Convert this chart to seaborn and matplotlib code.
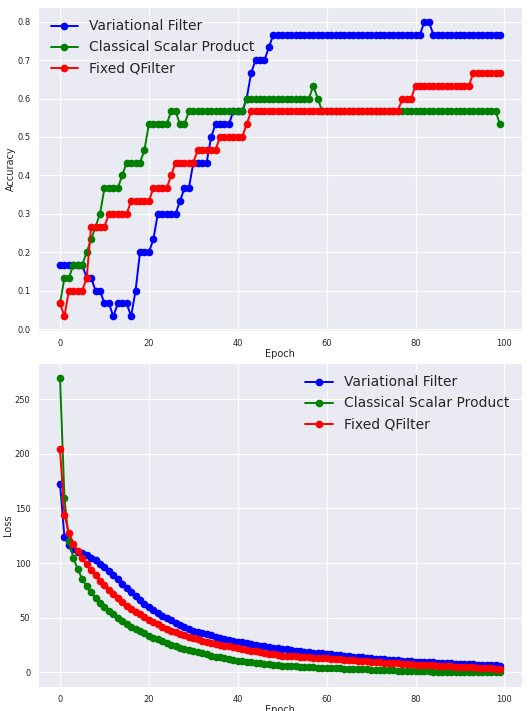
import numpy as np
import pandas as pd
import seaborn as sns
import matplotlib
matplotlib.use("Agg")
import matplotlib.pyplot as plt

sns.set_style("darkgrid")

epochs = list(range(100))
labels = ["Variational Filter", "Classical Scalar Product", "Fixed QFilter"]
colors = ["blue", "green", "red"]

# accuracy = correct / 30
acc_var_k = ([5] * 6 + [4] * 2 + [3] * 2 + [2] * 2 + [1] + [2] * 3 + [1] + [3] + [6] * 3 + [7]
             + [9] * 5 + [10] + [11] * 2 + [13] * 4 + [15] + [16] * 4 + [17] * 3 + [18] + [20]
             + [21] * 3 + [22] + [23] * 34 + [24] * 2 + [23] * 16)
acc_cls_k = ([2] + [4] * 2 + [5] * 3 + [6] + [7] + [8] + [9] + [11] * 4 + [12] + [13] * 4 + [14]
             + [16] * 5 + [17] * 2 + [16] * 2 + [17] * 13 + [18] * 15 + [19] + [18] + [17] * 40 + [16])
acc_fix_k = ([2] + [1] + [3] * 4 + [4] + [8] * 4 + [9] * 5 + [10] * 5 + [11] * 4 + [12] + [13] * 5
             + [14] * 5 + [15] * 6 + [16] + [17] * 34 + [18] * 3 + [19] * 13 + [20] * 7)

loss_var = [172.7, 123.8, 116.1, 112.5, 110.5, 109.0, 107.0, 104.5, 102.4, 99.3,
            96.3, 92.6, 88.6, 85.0, 81.0, 77.0, 73.3, 69.7, 66.6, 62.7,
            59.6, 56.8, 54.0, 51.7, 49.5, 47.4, 45.4, 43.5, 41.7, 39.9,
            38.2, 37.0, 35.8, 34.7, 33.7, 32.7, 31.7, 30.7, 29.8, 28.9,
            28.0, 27.3, 26.6, 25.9, 25.2, 24.5, 23.9, 23.2, 22.6, 22.0,
            21.4, 20.9, 20.4, 19.9, 19.4, 18.9, 18.5, 18.0, 17.6, 17.2,
            16.8, 16.4, 16.0, 15.6, 15.2, 14.8, 14.4, 14.0, 13.7, 13.3,
            13.0, 12.6, 12.3, 12.0, 11.6, 11.3, 11.0, 10.7, 10.4, 10.1,
            9.8, 9.6, 9.4, 9.2, 9.0, 8.8, 8.6, 8.4, 8.2, 8.0,
            7.8, 7.6, 7.4, 7.2, 7.0, 6.8, 6.6, 6.5, 6.3, 6.1]
loss_cls = [269.6, 159.5, 119.8, 104.8, 94.1, 85.6, 78.9, 73.3, 67.8, 63.3,
            59.3, 56.0, 52.9, 49.8, 46.8, 44.0, 41.8, 39.7, 37.6, 35.6,
            33.6, 31.8, 30.0, 28.3, 26.6, 25.0, 23.8, 22.6, 21.4, 20.3,
            19.3, 18.3, 17.3, 16.3, 15.3, 14.4, 13.6, 12.9, 12.1, 11.4,
            10.7, 10.2, 9.7, 9.2, 8.8, 8.3, 7.9, 7.4, 7.0, 6.5,
            6.1, 5.9, 5.6, 5.4, 5.1, 4.9, 4.7, 4.4, 4.2, 4.0,
            3.9, 3.8, 3.6, 3.5, 3.3, 3.2, 3.0, 2.9, 2.7, 2.6,
            2.4, 2.3, 2.1, 2.0, 1.8, 1.7, 1.5, 1.4, 1.2, 1.1,
            0.9, 0.9, 0.8, 0.8, 0.7, 0.7, 0.6, 0.6, 0.5, 0.5,
            0.4, 0.4, 0.3, 0.3, 0.2, 0.2, 0.1, 0.1, 0.05, 0.0]
loss_fix = [204.0, 143.6, 127.8, 117.7, 110.6, 104.5, 98.7, 93.2, 88.6, 84.0,
            79.5, 75.0, 71.5, 67.8, 64.5, 61.0, 58.0, 55.6, 53.2, 50.6,
            48.0, 45.9, 43.8, 41.8, 40.0, 38.2, 36.7, 35.2, 33.8, 32.5,
            31.2, 30.1, 29.0, 28.0, 27.0, 26.0, 25.2, 24.4, 23.6, 22.8,
            22.0, 21.3, 20.6, 19.9, 19.1, 18.3, 17.7, 17.1, 16.5, 15.9,
            15.3, 15.0, 14.8, 14.5, 14.3, 14.0, 13.8, 13.5, 13.3, 13.0,
            12.8, 12.5, 12.2, 11.9, 11.6, 11.3, 11.0, 10.7, 10.4, 10.1,
            9.8, 9.5, 9.2, 8.9, 8.6, 8.4, 8.1, 7.8, 7.5, 7.3,
            7.0, 6.8, 6.6, 6.4, 6.2, 6.0, 5.8, 5.6, 5.4, 5.2,
            5.0, 4.8, 4.6, 4.4, 4.2, 3.9, 3.7, 3.5, 3.2, 3.0]

acc = [np.array(acc_var_k) / 30, np.array(acc_cls_k) / 30, np.array(acc_fix_k) / 30]
loss = [loss_var, loss_cls, loss_fix]

fig = plt.figure(figsize=(5.28, 7.11), dpi=100)
ax1 = fig.add_axes([38 / 528, 1 - 331 / 711, 484 / 528, 324 / 711])
ax2 = fig.add_axes([38 / 528, 1 - 687 / 711, 484 / 528, 324 / 711])

for ax, series, ylab, loc in [(ax1, acc, "Accuracy", "upper left"), (ax2, loss, "Loss", "upper right")]:
    for vals, lab, col in zip(series, labels, colors):
        sns.lineplot(x=epochs, y=vals, ax=ax, color=col, label=lab, marker="o",
                     markersize=5.5, markeredgecolor=col, markeredgewidth=0, linewidth=1.4)
    ax.set_xlabel("Epoch", fontsize=7, labelpad=1)
    ax.set_ylabel(ylab, fontsize=7, labelpad=1)
    ax.tick_params(labelsize=6, pad=2)
    ax.set_xticks([0, 20, 40, 60, 80, 100])
    ax.legend(loc=loc, fontsize=10, frameon=False)

ax1.set_yticks([0.0, 0.1, 0.2, 0.3, 0.4, 0.5, 0.6, 0.7, 0.8])
ax2.set_yticks([0, 50, 100, 150, 200, 250])

fig.savefig("out.png", dpi=100)
